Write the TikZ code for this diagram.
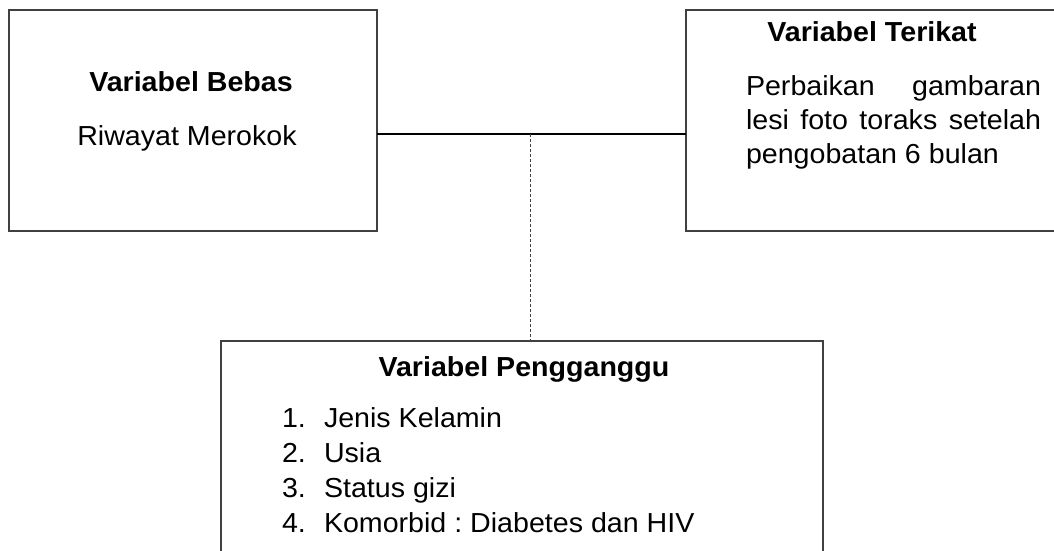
\documentclass[tikz,border=0pt]{standalone}
\usepackage{fontspec}
\setmainfont{Liberation Sans}[FakeStretch=1.04]
\definecolor{boxgray}{HTML}{404040}
\frenchspacing
\begin{document}
\begin{tikzpicture}[x=1pt,y=-1pt,
  box/.style={draw=boxgray, line width=1.5pt, inner sep=0pt, outer sep=0pt},
  txt/.style={inner sep=0pt, outer sep=0pt, font=\fontsize{27.5}{33}\selectfont},
  ttl/.style={txt, font=\fontsize{27.5}{33}\selectfont\bfseries}]
\useasboundingbox (0,0) rectangle (1054,551);
\clip (0,0) rectangle (1054,551);
% boxes
\node[box, minimum width=368pt, minimum height=221pt, anchor=north west] (L) at (9,10) {};
\node[box, minimum width=380pt, minimum height=221pt, anchor=north west] (R) at (686,10) {};
\node[box, minimum width=602pt, minimum height=230pt, anchor=north west] (B) at (221,341) {};
% left text
\node[ttl, anchor=base] (Lt) at (191,92) {Variabel Bebas};
\node[txt, anchor=base] (Lb) at (187,145) {Riwayat Merokok};
% right text
\node[ttl, anchor=base] (Rt) at (872,41.5) {Variabel Terikat};
\node[txt, anchor=base west] (R1) at (746,95) {\makebox[295pt][s]{Perbaikan gambaran}};
\node[txt, anchor=base west] (R2) at (746,129) {\makebox[295pt][s]{lesi foto toraks setelah}};
\node[txt, anchor=base west] (R3) at (746,163) {pengobatan 6 bulan};
% bottom text
\node[ttl, anchor=base] (Bt) at (524,376) {Variabel Pengganggu};
\node[txt, anchor=base west] (n1) at (282,427) {1.};
\node[txt, anchor=base west] (n2) at (282,462) {2.};
\node[txt, anchor=base west] (n3) at (282,497) {3.};
\node[txt, anchor=base west] (n4) at (282,532) {4.};
\node[txt, anchor=base west] (i1) at (324,427) {Jenis Kelamin};
\node[txt, anchor=base west] (i2) at (324,462) {Usia};
\node[txt, anchor=base west] (i3) at (324,497) {Status gizi};
\node[txt, anchor=base west] (i4) at (324,532) {Komorbid : Diabetes dan HIV};
% connectors
\coordinate (j) at (530,134);
\draw[line width=2.2pt, black] (L.east |- j) -- (R.west |- j);
\draw[line width=1pt, boxgray, dash pattern=on 3pt off 2pt] (j) -- (B.north -| j);
\end{tikzpicture}
\end{document}
